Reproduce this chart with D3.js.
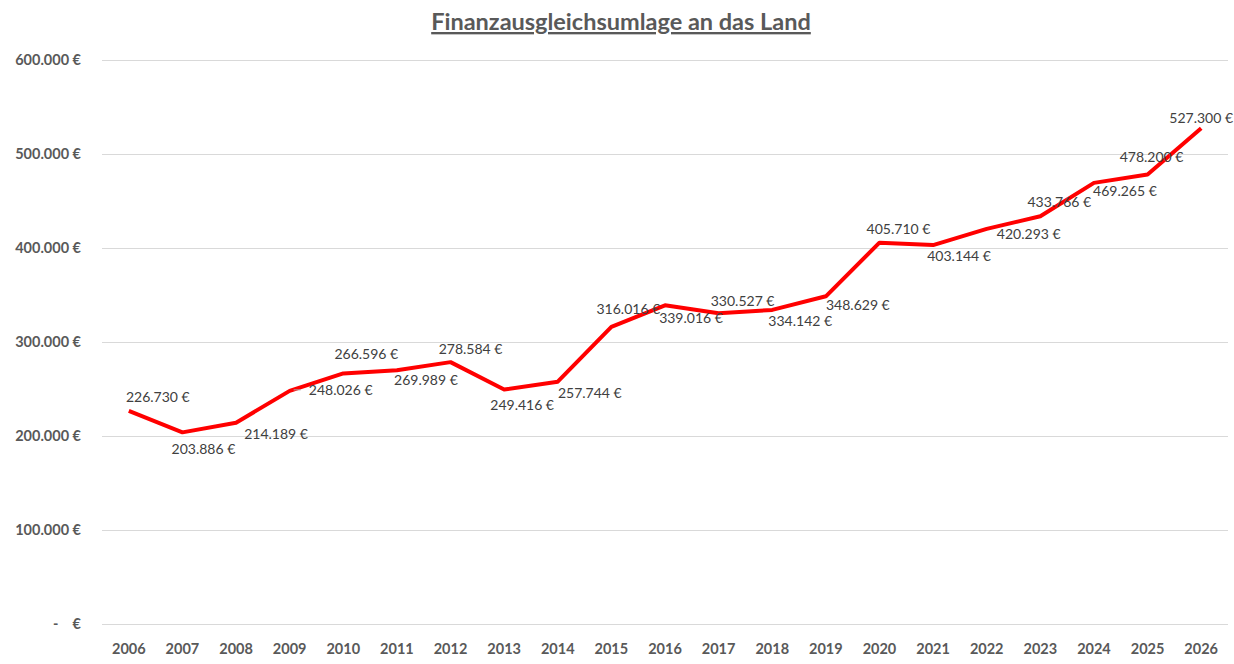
<!DOCTYPE html>
<meta charset="utf-8">
<style>
  body { margin: 0; background: #fff; }
  text { font-family: Lato, "Open Sans", sans-serif; }
</style>
<body>
<svg></svg>
<script src="https://cdn.jsdelivr.net/npm/d3@7"></script>
<script>

  // data
  var years = ["2006", "2007", "2008", "2009", "2010", "2011", "2012", "2013", "2014", "2015", "2016",
               "2017", "2018", "2019", "2020", "2021", "2022", "2023", "2024", "2025", "2026"];
  var amounts = [226730, 203886, 214189, 248026, 266596, 269989, 278584, 249416, 257744, 316016, 339016,
                 330527, 334142, 348629, 405710, 403144, 420293, 433766, 469265, 478200, 527300];
  var yTicks = [0, 100000, 200000, 300000, 400000, 500000, 600000];
  var title = "Finanzausgleichsumlage an das Land";

  // where each data label sits relative to its point (Excel placed them by hand)
  var labelOffsets = [
    [29, -14], [21, 17], [40, 11], [51, -1], [23, -19], [29, 10], [20, -13], [18, 15], [32, 11],
    [17, -18], [26, 13], [24, -12], [28, 11], [32, 9], [19, -14], [26, 11], [42, 5], [19, -14],
    [31, 8], [4, -17], [0, -10]
  ];

  var width = 1234, height = 664;
  var svg = d3.select("svg").attr("width", width).attr("height", height);

  var x = d3.scaleBand().domain(years).range([102, 1228]);
  var y = d3.scaleLinear().domain([0, 600000]).range([624, 60]);

  function cx(i) { return x(years[i]) + x.bandwidth() / 2; }

  function euro(v) {
    if (v == 0) return "-\u00a0\u00a0\u00a0\u00a0€";
    return d3.format(",")(v).replace(/,/g, ".") + " €";
  }

  // title
  svg.append("text")
     .attr("x", 621).attr("y", 30)
     .attr("text-anchor", "middle")
     .attr("font-size", 23.5).attr("font-weight", "bold")
     .attr("fill", "#595959")
     .attr("text-decoration", "underline")
     .text(title);

  // gridlines + y labels
  svg.append("g").selectAll("line")
     .data(yTicks).enter().append("line")
     .attr("x1", 102).attr("x2", 1228)
     .attr("y1", function(d){ return y(d) + 0.5; })
     .attr("y2", function(d){ return y(d) + 0.5; })
     .attr("stroke", "#d9d9d9").attr("stroke-width", 1);

  svg.append("g").selectAll("text")
     .data(yTicks).enter().append("text")
     .attr("x", 81)
     .attr("y", function(d){ return y(d) + 5; })
     .attr("text-anchor", "end")
     .attr("font-size", 14.5).attr("font-weight", "bold")
     .attr("fill", "#595959")
     .text(euro);

  // x labels
  svg.append("g").selectAll("text")
     .data(years).enter().append("text")
     .attr("x", function(d, i){ return cx(i); })
     .attr("y", 654)
     .attr("text-anchor", "middle")
     .attr("font-size", 14.5).attr("font-weight", "bold")
     .attr("fill", "#595959")
     .text(function(d){ return d; });

  // line
  var line = d3.line()
     .x(function(d, i){ return cx(i); })
     .y(function(d){ return y(d); });

  svg.append("path")
     .datum(amounts)
     .attr("d", line)
     .attr("fill", "none")
     .attr("stroke", "#ff0000")
     .attr("stroke-width", 4)
     .attr("stroke-linejoin", "round");

  // leader line for the 2009 label
  svg.append("line")
     .attr("x1", cx(3) + 4).attr("x2", cx(3) + 11)
     .attr("y1", y(amounts[3]) - 1).attr("y2", y(amounts[3]) - 1)
     .attr("stroke", "#a6a6a6").attr("stroke-width", 1);

  // data labels
  svg.append("g").selectAll("text")
     .data(amounts).enter().append("text")
     .attr("x", function(d, i){ return cx(i) + labelOffsets[i][0]; })
     .attr("y", function(d, i){ return y(d) + labelOffsets[i][1] + 5; })
     .attr("text-anchor", "middle")
     .attr("font-size", 14)
     .attr("fill", "#404040")
     .text(euro);

</script>
</body>
</html>
